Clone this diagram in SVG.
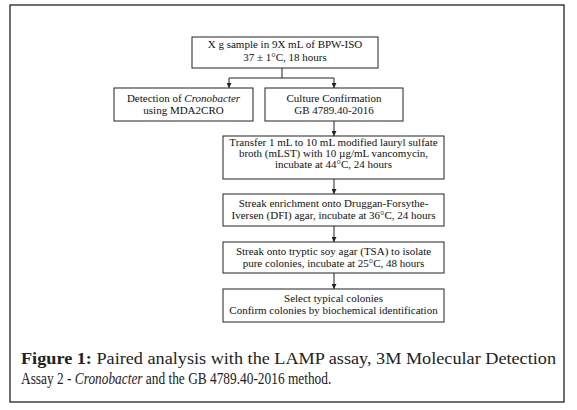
<svg xmlns="http://www.w3.org/2000/svg" width="577" height="410" viewBox="0 0 577 410">
<style>
.box{fill:#fff;stroke:#222;stroke-width:1}
.t{font-family:"Liberation Serif","Times New Roman",serif;font-size:11px;fill:#111;text-anchor:middle}
.ln{fill:none;stroke:#222;stroke-width:1}
.cap{font-family:"Liberation Serif","Times New Roman",serif;font-size:17.5px;fill:#222}
.cap2{font-family:"Liberation Serif","Times New Roman",serif;font-size:16.5px;fill:#222}
</style>
<defs>
<marker id="ah" viewBox="0 0 10 10" refX="10" refY="5" markerWidth="5" markerHeight="5" orient="auto" markerUnits="userSpaceOnUse">
<path d="M0,0 L10,5 L0,10 Z" fill="#222"/>
</marker>
</defs>
<rect x="10" y="5" width="554" height="397" fill="#fff" stroke="#222" stroke-width="1.3"/>
<g id="connectors">
<path class="ln" d="M282,68 V78 M229,78 H334"/>
<path class="ln" d="M229,78 V88" marker-end="url(#ah)"/>
<path class="ln" d="M334,78 V88" marker-end="url(#ah)"/>
<path class="ln" d="M334,121 V136" marker-end="url(#ah)"/>
<path class="ln" d="M334,179 V194" marker-end="url(#ah)"/>
<path class="ln" d="M334,226 V242" marker-end="url(#ah)"/>
<path class="ln" d="M334,273 V289" marker-end="url(#ah)"/>
</g>
<g id="n1">
<rect class="box" x="192" y="37" width="186" height="31"/>
<text class="t" x="285" y="48">X g sample in 9X mL of BPW-ISO</text>
<text class="t" x="285" y="61">37 ± 1°C, 18 hours</text>
</g>
<g id="n2">
<rect class="box" x="114" y="88" width="139" height="33"/>
<text class="t" x="183.5" y="102">Detection of <tspan font-style="italic">Cronobacter</tspan></text>
<text class="t" x="183.5" y="114">using MDA2CRO</text>
</g>
<g id="n3">
<rect class="box" x="265" y="88" width="138" height="33"/>
<text class="t" x="334" y="102">Culture Confirmation</text>
<text class="t" x="334" y="114">GB 4789.40-2016</text>
</g>
<g id="n4">
<rect class="box" x="223" y="136" width="221" height="43"/>
<text class="t" x="333.5" y="146">Transfer 1 mL to 10 mL modified lauryl sulfate</text>
<text class="t" x="333.5" y="157">broth (mLST) with 10 µg/mL vancomycin,</text>
<text class="t" x="333.5" y="168">incubate at 44°C, 24 hours</text>
</g>
<g id="n5">
<rect class="box" x="223" y="194" width="221" height="32"/>
<text class="t" x="333.5" y="207">Streak enrichment onto Druggan-Forsythe-</text>
<text class="t" x="333.5" y="219">Iversen (DFI) agar, incubate at 36°C, 24 hours</text>
</g>
<g id="n6">
<rect class="box" x="223" y="242" width="221" height="31"/>
<text class="t" x="333.5" y="255">Streak onto tryptic soy agar (TSA) to isolate</text>
<text class="t" x="333.5" y="267">pure colonies, incubate at 25°C, 48 hours</text>
</g>
<g id="n7">
<rect class="box" x="223" y="289" width="221" height="33"/>
<text class="t" x="333.5" y="302">Select typical colonies</text>
<text class="t" x="333.5" y="314">Confirm colonies by biochemical identification</text>
</g>
<g id="caption">
<text class="cap" x="21" y="364" textLength="535" lengthAdjust="spacingAndGlyphs"><tspan font-weight="bold">Figure 1:</tspan> Paired analysis with the LAMP assay, 3M Molecular Detection</text>
<g transform="translate(21,384) scale(0.81,1)">
<text class="cap2" x="0" y="0">Assay 2 - <tspan font-style="italic">Cronobacter</tspan> and the GB 4789.40-2016 method.</text>
</g>
</g>
</svg>
